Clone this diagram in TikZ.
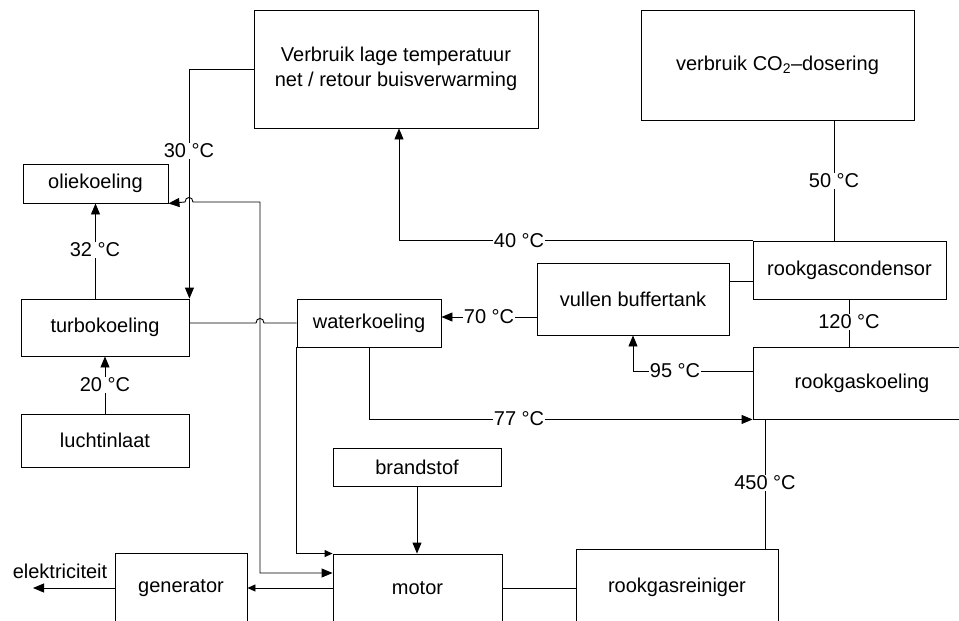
\documentclass[tikz,border=0pt]{standalone}
\usepackage{fontspec}
\setmainfont{Liberation Sans}
\usetikzlibrary{arrows.meta}
\begin{document}
\begin{tikzpicture}[x=1pt,y=-1pt,
  font=\fontsize{20}{24.5}\selectfont,
  line width=0.9pt,
  blok/.style={draw, rectangle, inner sep=0pt, align=center},
  lbl/.style={fill=white, inner sep=1pt},
  big/.style={-{Triangle[length=11pt,width=9pt]}},
  small/.style={-{Triangle[length=8pt,width=7pt]}},
]
\clip (0,0) rectangle (959,621);
\fill[white] (0,0) rectangle (959,621);
% boxes
\node[blok, minimum width=284, minimum height=118] (verbruik) at (396,69) {Verbruik lage temperatuur\\net / retour buisverwarming};
\node[blok, minimum width=273, minimum height=110] (co2) at (777.5,65) {verbruik CO\textsubscript{2}–dosering};
\node[blok, minimum width=145, minimum height=39] (olie) at (95.5,183.5) {oliekoeling};
\node[blok, minimum width=168, minimum height=57] (turbo) at (105,327.5) {turbokoeling};
\node[blok, minimum width=168, minimum height=53] (lucht) at (105,440.5) {luchtinlaat};
\node[blok, minimum width=144, minimum height=48] (water) at (369,323) {waterkoeling};
\node[blok, minimum width=192, minimum height=72] (buffer) at (633,299) {vullen buffertank};
\node[blok, minimum width=193, minimum height=58] (cond) at (849.5,270) {rookgascondensor};
\node[blok, minimum width=218, minimum height=72] (rkoel) at (862,383) {rookgaskoeling};
\node[blok, minimum width=168, minimum height=38] (brand) at (417,467) {brandstof};
\node[blok, minimum width=169, minimum height=68] (motor) at (417.5,588) {motor};
\node[blok, minimum width=132, minimum height=70] (gen) at (181,588) {generator};
\node[blok, minimum width=202, minimum height=76] (reinig) at (677,587) {rookgasreiniger};
\coordinate (elec) at (33,588);
% connectors
\draw[big] (verbruik.west) -| (turbo.north east);
\draw[big] (olie.south |- turbo.north) -- (olie.south);
\draw[big] (lucht.north) -- (turbo.south);
\draw[{Triangle[length=11pt,width=9pt]}-{Triangle[length=11pt,width=9pt]}]
  (olie.south east) -- (185,202) .. controls (185,196) and (193,196) .. (193,202)
  -- (260,202) -- (260,573) -- (motor.west |- 0,573);
\draw (turbo.east |- water.west) -- (256,323) .. controls (256,317) and (264,317) .. (264,323) -- (water.west);
\draw[small] (water.south west) |- (motor.north west);
\draw[big] (water.south) |- (rkoel.south west);
\draw[big] (buffer.west |- 0,317) -- (water.east |- 0,317);
\draw (buffer.east |- 0,281) -- (cond.west |- 0,281);
\draw[big] (cond.north west) -| (399,0 |- verbruik.south);
\draw (co2.south -| 834,0) -- (cond.north -| 834,0);
\draw (cond.south) -- (rkoel.north -| cond.south);
\draw[big] (rkoel.west |- 0,371) -| (buffer.south);
\draw (reinig.north -| 765,0) -- (rkoel.south -| 765,0);
\draw (motor.east) -- (reinig.west |- motor.east);
\draw[small] (motor.west) -- (gen.east);
\draw[big] (gen.west) -- (elec);
\draw[big] (brand.south) -- (motor.north -| brand.south);
% labels
\node[lbl] (l30) at (189,151) {30 °C};
\node[lbl] (l32) at (95,250) {32 °C};
\node[lbl] (l20) at (105,385) {20 °C};
\node[lbl] (l40) at (519,241) {40 °C};
\node[lbl] (l70) at (489,317) {70 °C};
\node[lbl] (l95) at (675,371) {95 °C};
\node[lbl] (l77) at (519,419) {77 °C};
\node[lbl] (l50) at (834,181) {50 °C};
\node[lbl] (l120) at (849,322) {120 °C};
\node[lbl] (l450) at (765,483) {450 °C};
\node (lel) at (60,571) {elektriciteit};
\end{tikzpicture}
\end{document}
